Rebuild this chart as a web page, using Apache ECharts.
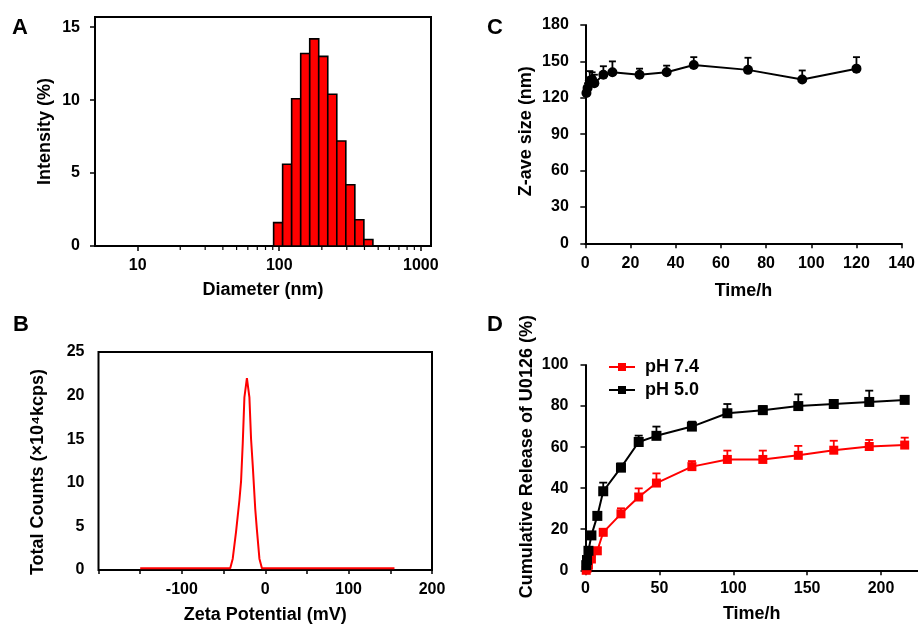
<!DOCTYPE html>
<html><head><meta charset="utf-8">
<script src="https://cdn.jsdelivr.net/npm/echarts@6/dist/echarts.min.js"></script>
<style>html,body{margin:0;padding:0;background:#fff}#c{width:918px;height:625px}</style>
</head><body><div id="c"></div>
<script>
// ---------- Panel A: size distribution ----------
const diameterBinEdges = [91.3, 105.7, 122.4, 141.8, 164.2, 190.1, 220.2, 255.0, 295.3, 342.0, 396.1, 458.7];
const intensity = [1.6, 5.6, 10.1, 13.2, 14.2, 13.0, 10.4, 7.2, 4.2, 1.8, 0.45];
const diameterMajorTicks = [10, 100, 1000];
const diameterMinorTicks = [20, 30, 40, 50, 60, 70, 80, 90, 200, 300, 400, 500, 600, 700, 800, 900];
const intensityTicks = [0, 5, 10, 15];
// ---------- Panel B: zeta potential ----------
const zetaPotential = [-150, -42, -39, -35, -31, -29, -27, -25, -22, -19, -17, -15, -12, -10, -7, -4, 155];
const totalCounts = [0.2, 0.2, 1.3, 4.4, 8.0, 10.2, 14.5, 19.8, 22.0, 19.8, 15.0, 12.0, 7.0, 4.6, 1.3, 0.2, 0.2];
const zetaLabels = [-100, 0, 100, 200];
// ---------- Panel C: stability ----------
const stabilityTime = [0.5, 1, 2, 3, 4, 8, 12, 24, 36, 48, 72, 96, 120];
const zAveSize = [124, 128, 134, 135, 132, 139, 141, 139, 141, 147, 143, 135, 144];
const zAveSD = [3, 4, 8, 6, 7, 7, 9, 5, 5.5, 6.5, 10, 7.5, 9.5];
// ---------- Panel D: release ----------
const releaseTime = [0.5, 1, 2, 4, 8, 12, 24, 36, 48, 72, 96, 120, 144, 168, 192, 216];
const releasePH74 = [0, 1, 2.5, 5.5, 9.5, 18.5, 27.5, 35.7, 42.5, 50.5, 54, 54, 56, 58.5, 60.3, 61];
const releasePH74SD = [0.5, 0.5, 1, 1, 1.5, 1.5, 2.7, 4.2, 4.7, 2.7, 4.3, 4.3, 4.6, 4.6, 3.2, 3.6];
const releasePH50 = [2.5, 5, 9.5, 17, 26.5, 38.5, 50, 62.5, 65.5, 70, 76.5, 78, 80, 81, 82, 83];
const releasePH50SD = [1, 1, 1, 1, 1, 4.2, 2, 3.1, 4.5, 2.4, 4.5, 2, 5.7, 2, 5.5, 1.6];
const releaseTicks = [0, 50, 100, 150, 200];

const FONT = 'Liberation Sans, Arial, Helvetica, sans-serif';
const tickFont = {fontFamily: FONT, fontWeight: 'bold', fontSize: 16, color: '#000'};
const titleFont = {fontFamily: FONT, fontWeight: 'bold', fontSize: 18, color: '#000'};
const blackLine = {color: '#000', width: 2};
const tickLine = {color: '#000', width: 1.5};

function errorBarSeries(name, xi, times, vals, sds, color, hw) {
  return {
    type: 'custom', name: name + ' err', xAxisIndex: xi, yAxisIndex: xi, silent: true, z: 1,
    data: times.map((t, i) => [t, vals[i], sds[i]]),
    encode: {x: 0, y: 1},
    renderItem: function (params, api) {
      const x = api.value(0), y = api.value(1), e = api.value(2);
      const p0 = api.coord([x, y]);
      const p1 = api.coord([x, y + e]);
      return {type: 'group', children: [
        {type: 'line', shape: {x1: p0[0], y1: p0[1], x2: p1[0], y2: p1[1]}, style: {stroke: color, lineWidth: 1.8}},
        {type: 'line', shape: {x1: p1[0] - hw, y1: p1[1], x2: p1[0] + hw, y2: p1[1]}, style: {stroke: color, lineWidth: 1.8}}
      ]};
    }
  };
}

const chart = echarts.init(document.getElementById('c'));
const option = {
  animation: false,
  backgroundColor: '#fff',
  grid: [
    {left: 95, top: 17, width: 336, height: 229, show: true, borderColor: '#000', borderWidth: 2},
    {left: 98.5, top: 352, width: 333.5, height: 219.7, show: true, borderColor: '#000', borderWidth: 2},
    {left: 585.3, top: 25, width: 322, height: 218.3},
    {left: 585.5, top: 365, width: 332.5, height: 205.3}
  ],
  xAxis: [
    {gridIndex: 0, type: 'log', logBase: 10, min: 5, max: 1180,
      axisLine: {show: false}, splitLine: {show: false},
      axisTick: {show: true, customValues: diameterMajorTicks, length: 5, lineStyle: tickLine},
      axisLabel: {customValues: diameterMajorTicks, margin: 12, formatter: v => String(Math.round(v)), ...tickFont},
      name: 'Diameter (nm)', nameLocation: 'middle', nameGap: 35, nameTextStyle: titleFont},
    {gridIndex: 1, type: 'value', min: -200, max: 200, interval: 50,
      axisLine: {show: false}, splitLine: {show: false},
      axisTick: {show: true, length: 4, lineStyle: tickLine},
      axisLabel: {customValues: zetaLabels, margin: 12, ...tickFont},
      name: 'Zeta Potential (mV)', nameLocation: 'middle', nameGap: 36, nameTextStyle: titleFont},
    {gridIndex: 2, type: 'value', min: 0, max: 140, interval: 20,
      axisLine: {show: true, lineStyle: blackLine}, splitLine: {show: false},
      axisTick: {show: true, length: 5, lineStyle: tickLine},
      axisLabel: {margin: 12, ...tickFont},
      name: 'Time/h', nameLocation: 'middle', nameGap: 39, nameTextStyle: titleFont},
    {gridIndex: 3, type: 'value', min: 0, max: 225,
      axisLine: {show: true, lineStyle: blackLine}, splitLine: {show: false},
      axisTick: {show: true, customValues: releaseTicks, length: 5, lineStyle: tickLine},
      axisLabel: {customValues: releaseTicks, margin: 10, ...tickFont},
      name: 'Time/h', nameLocation: 'middle', nameGap: 35, nameTextStyle: titleFont}
  ],
  yAxis: [
    {gridIndex: 0, type: 'value', min: 0, max: 15.7,
      axisLine: {show: false}, splitLine: {show: false},
      axisTick: {show: true, customValues: intensityTicks, length: 5, lineStyle: tickLine},
      axisLabel: {customValues: intensityTicks, margin: 15, ...tickFont},
      name: 'Intensity (%)', nameLocation: 'middle', nameGap: 41, nameTextStyle: titleFont},
    {gridIndex: 1, type: 'value', min: 0, max: 25, interval: 5,
      axisLine: {show: false}, splitLine: {show: false}, axisTick: {show: false},
      axisLabel: {margin: 14, ...tickFont},
      name: 'Total Counts (×10⁴kcps)', nameLocation: 'middle', nameGap: 51,
      nameTextStyle: {...titleFont, padding: [0, 22, 0, 0]}},
    {gridIndex: 2, type: 'value', min: 0, max: 180, interval: 30, offset: 3.5,
      axisLine: {show: true, lineStyle: blackLine}, splitLine: {show: false},
      axisTick: {show: true, length: 5, lineStyle: tickLine},
      axisLabel: {margin: 13, ...tickFont},
      name: 'Z-ave size (nm)', nameLocation: 'middle', nameGap: 47,
      nameTextStyle: {...titleFont, padding: [0, 0, 0, 6]}},
    {gridIndex: 3, type: 'value', min: 0, max: 100, interval: 20,
      axisLine: {show: true, lineStyle: blackLine}, splitLine: {show: false},
      axisTick: {show: true, length: 5, lineStyle: tickLine},
      axisLabel: {margin: 17, ...tickFont},
      name: 'Cumulative Release of U0126 (%)', nameLocation: 'middle', nameGap: 49,
      nameTextStyle: {...titleFont, padding: [0, 0, 0, 22]}}
  ],
  legend: {
    left: 603, top: 353, orient: 'vertical', itemWidth: 26, itemHeight: 10, itemGap: 5,
    data: ['pH 7.4', 'pH 5.0'],
    textStyle: {fontFamily: FONT, fontWeight: 'bold', fontSize: 18, color: '#000', padding: [0, 0, 0, 5]}
  },
  graphic: [
    {type: 'text', left: 12, top: 17, style: {text: 'A', font: 'bold 22px ' + FONT, fill: '#000'}},
    {type: 'text', left: 13, top: 314, style: {text: 'B', font: 'bold 22px ' + FONT, fill: '#000'}},
    {type: 'text', left: 487, top: 17, style: {text: 'C', font: 'bold 22px ' + FONT, fill: '#000'}},
    {type: 'text', left: 487, top: 314, style: {text: 'D', font: 'bold 22px ' + FONT, fill: '#000'}}
  ],
  series: [
    // A histogram
    {type: 'custom', xAxisIndex: 0, yAxisIndex: 0, silent: true,
      data: intensity.map((v, i) => [diameterBinEdges[i], diameterBinEdges[i + 1], v]),
      encode: {x: [0, 1], y: 2},
      renderItem: function (params, api) {
        const a = api.coord([api.value(0), api.value(2)]);
        const b = api.coord([api.value(1), 0]);
        return {type: 'rect', shape: {x: a[0], y: a[1], width: b[0] - a[0], height: b[1] - a[1]},
          style: {fill: '#ff0000', stroke: '#000', lineWidth: 1.6}};
      }},
    // A minor ticks
    {type: 'custom', xAxisIndex: 0, yAxisIndex: 0, silent: true, clip: false,
      data: diameterMinorTicks.map(v => [v, 0]),
      encode: {x: 0, y: 1},
      renderItem: function (params, api) {
        const p = api.coord([api.value(0), 0]);
        return {type: 'line', shape: {x1: p[0], y1: p[1] + 1, x2: p[0], y2: p[1] + 4},
          style: {stroke: '#000', lineWidth: 1.2}};
      }},
    // B zeta line
    {type: 'line', xAxisIndex: 1, yAxisIndex: 1, showSymbol: false, symbol: 'none',
      data: zetaPotential.map((x, i) => [x, totalCounts[i]]),
      lineStyle: {color: '#ff0000', width: 2}, itemStyle: {color: '#ff0000'}},
    // C
    errorBarSeries('size', 2, stabilityTime, zAveSize, zAveSD, '#000', 3.5),
    {type: 'line', name: 'Z-ave', xAxisIndex: 2, yAxisIndex: 2, z: 3,
      data: stabilityTime.map((t, i) => [t, zAveSize[i]]),
      symbol: 'circle', symbolSize: 10,
      lineStyle: {color: '#000', width: 2}, itemStyle: {color: '#000'}},
    // D
    errorBarSeries('pH 7.4', 3, releaseTime, releasePH74, releasePH74SD, '#ff0000', 4),
    errorBarSeries('pH 5.0', 3, releaseTime, releasePH50, releasePH50SD, '#000', 4),
    {type: 'line', name: 'pH 7.4', xAxisIndex: 3, yAxisIndex: 3, z: 3,
      data: releaseTime.map((t, i) => [t, releasePH74[i]]),
      symbol: 'rect', symbolSize: 9,
      lineStyle: {color: '#ff0000', width: 2}, itemStyle: {color: '#ff0000'}},
    {type: 'line', name: 'pH 5.0', xAxisIndex: 3, yAxisIndex: 3, z: 4,
      data: releaseTime.map((t, i) => [t, releasePH50[i]]),
      symbol: 'rect', symbolSize: 10,
      lineStyle: {color: '#000', width: 2}, itemStyle: {color: '#000'}}
  ]
};
chart.setOption(option);
</script>
</body></html>
